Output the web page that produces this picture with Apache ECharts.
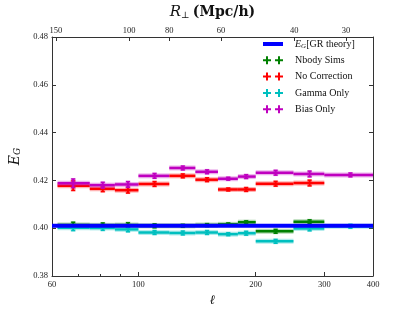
<!DOCTYPE html>
<html>
<head>
<meta charset="utf-8">
<script src="https://cdn.jsdelivr.net/npm/echarts@6/dist/echarts.min.js"></script>
<style>html,body{margin:0;padding:0;background:#fff}#c{width:415px;height:312px}</style>
</head>
<body>
<div id="c"></div>
<script>
// ---- data ----
var binLo  = [62, 75, 87, 100, 120, 140, 160, 180, 200, 250, 300];
var binHi  = [75, 87, 100, 120, 140, 160, 180, 200, 250, 300, 400];
var binMid = [68, 81, 94, 110, 130, 150, 170, 189, 225, 275, 350];

var nbodyVal = [0.4013, 0.4012, 0.4013, 0.4010, 0.4010, 0.4013, 0.4016, 0.4025, 0.3987, 0.4027];
var nbodyErr = [0.0012, 0.0010, 0.0010, 0.0008, 0.0006, 0.0006, 0.0006, 0.0006, 0.0008, 0.0008];

var noCorrVal = [0.4178, 0.4165, 0.4159, 0.4185, 0.4219, 0.4203, 0.4162, 0.4162, 0.4186, 0.4189];
var noCorrErr = [0.0020, 0.0012, 0.0012, 0.0010, 0.0008, 0.0008, 0.0006, 0.0008, 0.0010, 0.0012];

var gammaVal = [0.4002, 0.4001, 0.3995, 0.3982, 0.3980, 0.3982, 0.3975, 0.3979, 0.3945, 0.3999, 0.4008];
var gammaErr = [0.0012, 0.0010, 0.0010, 0.0008, 0.0008, 0.0008, 0.0006, 0.0008, 0.0008, 0.0010, 0.0008];

var biasVal = [0.4188, 0.4180, 0.4183, 0.4219, 0.4252, 0.4236, 0.4207, 0.4216, 0.4232, 0.4227, 0.4223];
var biasErr = [0.0018, 0.0012, 0.0012, 0.0010, 0.0008, 0.0008, 0.0006, 0.0008, 0.0010, 0.0012, 0.0008];

var theoryX = [60, 400];
var theoryY = [0.401, 0.401];

var bottomTicks = [60, 100, 200, 300, 400];
var minorTicks = [70, 80, 90];
var topTickL = [61.4, 94.7, 120, 163, 251, 341];
var topTickLabels = ['150', '100', '80', '60', '40', '30'];

// ---- build ----
function rows(vals, errs) {
  return vals.map(function (v, i) { return [binLo[i], binHi[i], binMid[i], v, errs[i]]; });
}
function makeRender(color) {
  return function (params, api) {
    var v = api.value(3), e = api.value(4);
    var p0 = api.coord([api.value(0), v]);
    var p1 = api.coord([api.value(1), v]);
    var pt = api.coord([api.value(2), v + e]);
    var pb = api.coord([api.value(2), v - e]);
    var cx = pt[0];
    function ln(x1, y1, x2, y2, w, op) {
      return { type: 'line', shape: { x1: x1, y1: y1, x2: x2, y2: y2 },
        style: { stroke: color, lineWidth: w, opacity: op } };
    }
    return { type: 'group', children: [
      ln(p0[0], p0[1], p1[0], p1[1], 5, 0.3),
      ln(cx, pt[1] - 1, cx, pb[1] + 1, 5, 0.3),
      ln(p0[0], p0[1], p1[0], p1[1], 2.5, 1),
      ln(cx, pt[1], cx, pb[1], 2, 1),
      ln(cx - 2, pt[1], cx + 2, pt[1], 1.5, 1),
      ln(cx - 2, pb[1], cx + 2, pb[1], 1.5, 1)
    ] };
  };
}
var serif = 'Liberation Serif';
var crossIcon = 'path://M0,3h3V0h2v3h3v2H5v3H3V5H0z M12,3h3V0h2v3h3v2h-3v3h-2V5h-3z M26.9,3.9h0.1v0.1h-0.1z';
var lineIcon = 'path://M0,2h20v4H0z M0,0h0.05v0.05H0z M26.95,7.95h0.05v0.05h-0.05z';

function errSeries(name, color, vals, errs) {
  return { name: name, type: 'custom', xAxisIndex: 0, yAxisIndex: 0,
    itemStyle: { color: color }, renderItem: makeRender(color),
    encode: { x: [0, 1, 2], y: [3] }, data: rows(vals, errs), z: 2 };
}

var chart = echarts.init(document.getElementById('c'), null, { renderer: 'canvas' });
var axisLineStyle = { color: '#333', width: 1 };
chart.setOption({
  animation: false,
  grid: { left: 52, right: 42, top: 31, bottom: 32 },
  legend: {
    orient: 'vertical', left: 263, top: 36, padding: 0, itemGap: 0.3,
    itemWidth: 27, itemHeight: 8,
    textStyle: { fontFamily: serif, fontSize: 10, color: '#111', lineHeight: 16,
      rich: { i: { fontFamily: serif, fontStyle: 'italic', fontSize: 10, lineHeight: 16 },
              s: { fontFamily: serif, fontStyle: 'italic', fontSize: 7, lineHeight: 16, verticalAlign: 'bottom', padding: [0, 0, 2, 0] } } },
    formatter: function (n) { return n === 'EG' ? '{i|E}{s|G}[GR theory]' : n; },
    data: [
      { name: 'EG', icon: lineIcon },
      { name: 'Nbody Sims', icon: crossIcon },
      { name: 'No Correction', icon: crossIcon },
      { name: 'Gamma Only', icon: crossIcon },
      { name: 'Bias Only', icon: crossIcon }
    ]
  },
  xAxis: [
    { type: 'log', min: 60, max: 400, position: 'bottom',
      axisLine: { show: true, lineStyle: axisLineStyle },
      axisTick: { show: true, inside: true, length: 4, customValues: bottomTicks, lineStyle: { color: '#333' } },
      axisLabel: { customValues: bottomTicks, margin: 4, fontFamily: serif, fontSize: 8.5, color: '#222' },
      splitLine: { show: false }, minorTick: { show: false },
      name: 'ℓ', nameLocation: 'middle', nameGap: 18,
      nameTextStyle: { fontFamily: 'DejaVu Serif', fontStyle: 'italic', fontSize: 13, color: '#111' } },
    { type: 'log', min: 60, max: 400, position: 'top',
      axisLine: { show: true, lineStyle: axisLineStyle },
      axisTick: { show: true, inside: true, length: 4, customValues: topTickL, lineStyle: { color: '#333' } },
      axisLabel: { customValues: topTickL, margin: 2, fontFamily: serif, fontSize: 8.5, color: '#222',
        formatter: function (v) {
          var best = 0;
          for (var i = 0; i < topTickL.length; i++) if (Math.abs(topTickL[i] - v) < Math.abs(topTickL[best] - v)) best = i;
          return topTickLabels[best];
        } },
      splitLine: { show: false },
      name: '{i|R}{s|⊥} {b|(Mpc/h)}', nameLocation: 'middle', nameGap: 17,
      nameTextStyle: { rich: {
        i: { fontFamily: 'DejaVu Serif', fontStyle: 'italic', fontSize: 15, color: '#111' },
        s: { fontFamily: 'DejaVu Serif', fontSize: 9, color: '#111', verticalAlign: 'bottom', padding: [0, 0, 0, 0] },
        b: { fontFamily: 'DejaVu Serif', fontWeight: 'bold', fontSize: 14, color: '#111' } } } },
    { type: 'log', min: 60, max: 400, position: 'bottom',
      axisLine: { show: false },
      axisTick: { show: true, inside: true, length: 2, customValues: minorTicks, lineStyle: { color: '#333' } },
      axisLabel: { show: false }, splitLine: { show: false } }
  ],
  yAxis: [
    { type: 'value', min: 0.38, max: 0.48, interval: 0.02, position: 'left',
      axisLine: { show: true, lineStyle: axisLineStyle },
      axisTick: { show: true, inside: true, length: 4, lineStyle: { color: '#333' } },
      axisLabel: { margin: 4, fontFamily: serif, fontSize: 8.5, color: '#222', formatter: function (v) { return v.toFixed(2); } },
      splitLine: { show: false },
      name: '{i|E}{s|G}', nameLocation: 'middle', nameGap: 20, nameRotate: 90,
      nameTextStyle: { rich: {
        i: { fontFamily: 'DejaVu Serif', fontStyle: 'italic', fontSize: 14, color: '#111' },
        s: { fontFamily: 'DejaVu Serif', fontStyle: 'italic', fontSize: 9, color: '#111', verticalAlign: 'bottom' } } } },
    { type: 'value', min: 0.38, max: 0.48, interval: 0.02, position: 'right',
      axisLine: { show: true, lineStyle: axisLineStyle },
      axisTick: { show: true, inside: true, length: 4, lineStyle: { color: '#333' } },
      axisLabel: { show: false }, splitLine: { show: false } }
  ],
  series: [
    errSeries('Nbody Sims', '#008000', nbodyVal, nbodyErr),
    errSeries('No Correction', '#ff0000', noCorrVal, noCorrErr),
    errSeries('Gamma Only', '#00bfbf', gammaVal, gammaErr),
    errSeries('Bias Only', '#bf00bf', biasVal, biasErr),
    { name: 'EG', type: 'line', xAxisIndex: 0, yAxisIndex: 0, symbol: 'none', z: 5,
      itemStyle: { color: '#0000ff' },
      lineStyle: { color: '#0000ff', width: 4 },
      data: theoryX.map(function (x, i) { return [x, theoryY[i]]; }) }
  ]
});
</script>
</body>
</html>
